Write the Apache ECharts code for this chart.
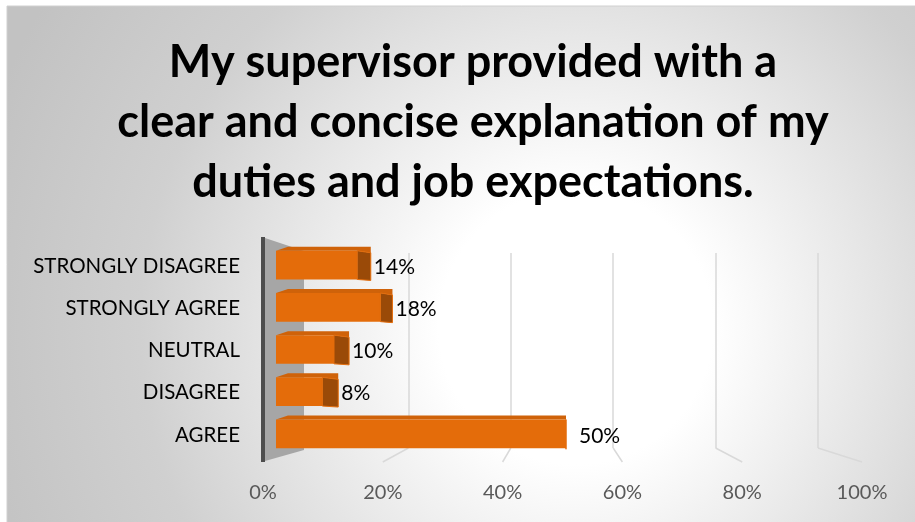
<!DOCTYPE html>
<html>
<head>
<meta charset="utf-8">
<script src="https://cdn.jsdelivr.net/npm/echarts@6/dist/echarts.min.js"></script>
<style>
  html, body { margin: 0; padding: 0; background: #fff; }
  #chart { width: 915px; height: 522px; }
</style>
</head>
<body>
<div id="chart"></div>
<script>
// survey answers, top to bottom as shown
const categories = ['STRONGLY DISAGREE', 'STRONGLY AGREE', 'NEUTRAL', 'DISAGREE', 'AGREE']
const shares = [0.14, 0.18, 0.10, 0.08, 0.50]
const tickValues = [0, 0.2, 0.4, 0.6, 0.8, 1.0]

const font = 'Lato, "Open Sans", sans-serif'
const chart = echarts.init(document.getElementById('chart'))

const barData = shares.map((v, i) => [v, i])
const floorData = tickValues.slice(1).map(v => [v, 0])

// 3D looking bar: front face, top strip, dark end cap, label
function renderBar(params, api) {
  const v = api.value(0)
  const i = api.value(1)
  const p0 = api.coord([0, i])
  const p1 = api.coord([v, i])
  const h = api.size([0, 1])[1] * 0.68
  const x0 = p0[0], xe = p1[0], cy = p0[1] - 1
  const top = cy - h / 2, bot = cy + h / 2
  const d = Math.max(0, (566 - xe) * 0.065)
  return {
    type: 'group',
    children: [
      {
        type: 'polygon',
        shape: { points: [[x0, top], [x0 + 12, top - 4], [xe + d, top - 4], [xe + d, top + 2], [xe, top]] },
        style: { fill: '#cf6209' }
      },
      {
        type: 'rect',
        shape: { x: x0, y: top, width: xe - x0, height: h },
        style: { fill: '#e46c0a' }
      },
      {
        type: 'polygon',
        shape: { points: [[xe, top], [xe + d, top + 2], [xe + d, bot + 1], [xe, bot]] },
        style: { fill: '#9a4a08', stroke: '#e46c0a', lineWidth: 1 }
      },
      {
        type: 'text',
        x: xe + Math.max(d, 10) + 3,
        y: cy + 2,
        style: {
          text: Math.round(v * 100) + '%',
          fill: '#000',
          font: '21px ' + font,
          verticalAlign: 'middle'
        }
      }
    ]
  }
}

// slanted floor part of the gridlines (back wall -> front labels)
function renderFloor(params, api) {
  const f = api.coord([api.value(0), 0])
  const back = 306 + (f[0] - 263) * 512 / 599
  return {
    type: 'line',
    shape: { x1: back, y1: 448, x2: f[0], y2: 462 },
    style: { stroke: '#d9d9d9', lineWidth: 1.5 }
  }
}

const option = {
  animation: false,
  graphic: [
    {
      type: 'rect',
      z: -10,
      shape: { x: 7, y: 6, width: 910, height: 518 },
      style: {
        fill: new echarts.graphic.RadialGradient(0.625, 0.62, 1.2, [
          { offset: 0, color: '#ffffff' },
          { offset: 0.22, color: '#ffffff' },
          { offset: 0.7, color: '#d0d0d0' },
          { offset: 1, color: '#c2c2c2' }
        ]),
        stroke: '#d0d0d0',
        lineWidth: 1
      }
    },
    {
      type: 'polygon',
      z: -5,
      shape: { points: [[265, 238], [304, 251], [304, 450], [265, 461]] },
      style: { fill: '#a6a6a6' }
    },
    {
      type: 'line',
      z: 10,
      shape: { x1: 263, y1: 237, x2: 263, y2: 462 },
      style: { stroke: '#4d4d4d', lineWidth: 4 }
    }
  ],
  title: {
    text: 'My supervisor provided with a\nclear and concise explanation of my\nduties and job expectations.',
    left: 468,
    top: 27,
    textAlign: 'center',
    textStyle: {
      fontFamily: font,
      fontWeight: 'bold',
      fontSize: 45,
      lineHeight: 60,
      color: '#000'
    }
  },
  grid: [
    { left: 276, width: 580, top: 245, height: 211 },
    { left: 263, width: 599, top: 245, height: 211 },
    { left: 306, width: 512, top: 253, height: 195 }
  ],
  xAxis: [
    { gridIndex: 0, type: 'value', min: 0, max: 1, show: false },
    {
      gridIndex: 1, type: 'value', min: 0, max: 1, interval: 0.2,
      axisLine: { show: false }, axisTick: { show: false }, splitLine: { show: false },
      axisLabel: {
        margin: 27,
        fontFamily: font,
        fontSize: 20,
        color: '#595959',
        formatter: v => Math.round(v * 100) + '%'
      }
    },
    {
      gridIndex: 2, type: 'value', min: 0, max: 1, interval: 0.2,
      axisLine: { show: false }, axisTick: { show: false }, axisLabel: { show: false },
      splitLine: { show: true, showMinLine: false, lineStyle: { color: '#d9d9d9', width: 1.5 } }
    }
  ],
  yAxis: [
    {
      gridIndex: 0, type: 'category', data: categories, inverse: true,
      axisLine: { show: false }, axisTick: { show: false },
      axisLabel: { margin: 36, fontFamily: font, fontSize: 20.5, color: '#000' }
    },
    { gridIndex: 1, type: 'value', min: 0, max: 1, show: false },
    { gridIndex: 2, type: 'value', min: 0, max: 1, show: false }
  ],
  series: [
    {
      type: 'custom',
      xAxisIndex: 1,
      yAxisIndex: 1,
      renderItem: renderFloor,
      data: floorData,
      z: 1
    },
    {
      type: 'custom',
      xAxisIndex: 0,
      yAxisIndex: 0,
      renderItem: renderBar,
      encode: { x: 0, y: 1 },
      data: barData,
      z: 5
    }
  ]
}
chart.setOption(option)
</script>
</body>
</html>
